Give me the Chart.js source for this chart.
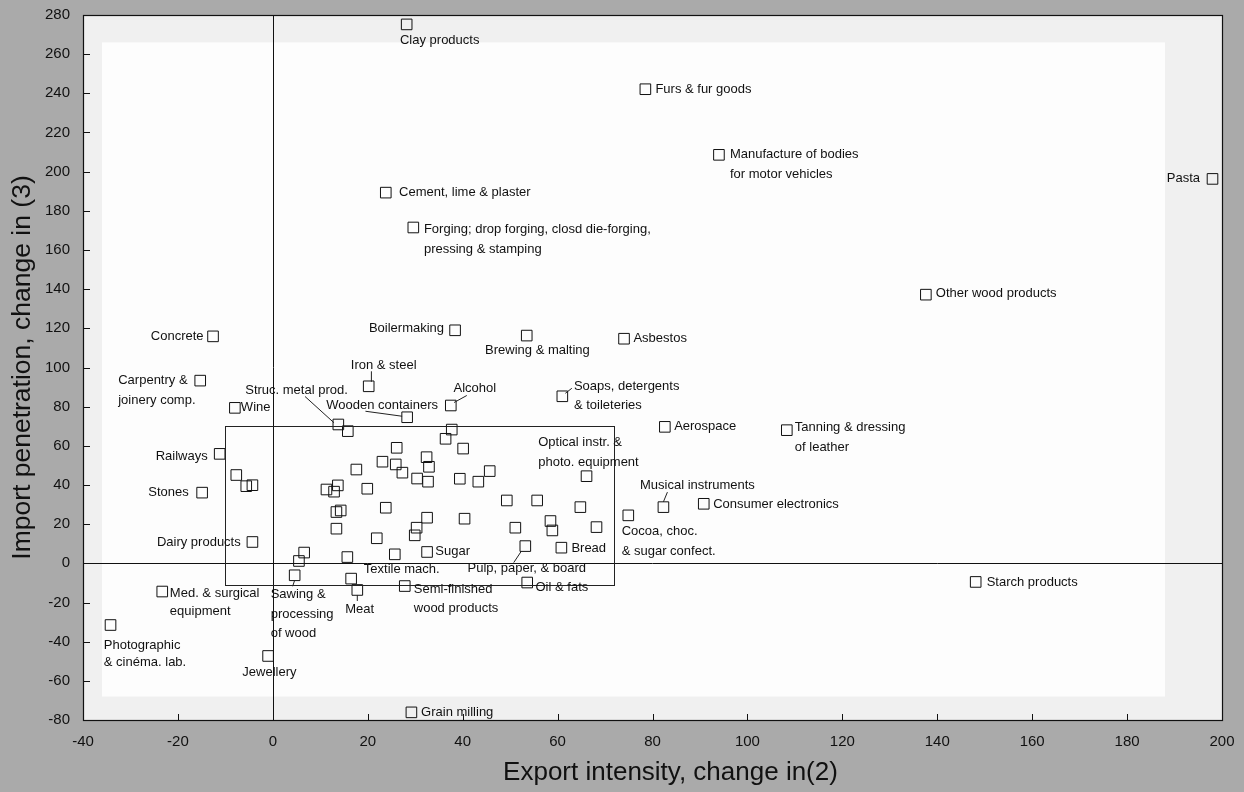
<!DOCTYPE html>
<html>
<head>
<meta charset="utf-8">
<title>Export intensity vs import penetration</title>
<script src="https://cdn.jsdelivr.net/npm/chart.js@4.4.1/dist/chart.umd.min.js"></script>
<style>
  html, body { margin: 0; padding: 0; background: #aaaaaa; }
  #wrap { width: 1244px; height: 792px; position: relative; }
</style>
</head>
<body>
<div id="wrap"><canvas id="scatter"></canvas></div>
<script>
// sector names ('' = unlabelled point), line breaks as in the original
const sectors = [
  'Clay products', 'Furs & fur goods', 'Manufacture of bodies\nfor motor vehicles', 'Pasta',
  'Cement, lime & plaster', 'Forging; drop forging, closd die-forging,\npressing & stamping',
  'Other wood products', 'Concrete', 'Boilermaking', 'Brewing & malting', 'Asbestos',
  'Carpentry &\njoinery comp.', 'Iron & steel', 'Wine', 'Alcohol', 'Soaps, detergents\n& toileteries',
  'Wooden containers', 'Struc. metal prod.', 'Aerospace', 'Tanning & dressing\nof leather',
  'Railways', 'Optical instr. &\nphoto. equipment', 'Stones', 'Musical instruments',
  'Consumer electronics', 'Cocoa, choc.\n& sugar confect.', 'Dairy products', 'Bread',
  'Pulp, paper, & board', 'Sugar', 'Textile mach.', 'Sawing &\nprocessing\nof wood', 'Meat',
  'Semi-finished\nwood products', 'Oil & fats', 'Starch products', 'Med. & surgical\nequipment',
  'Photographic\n& cinéma. lab.', 'Jewellery', 'Grain milling',
  '', '', '', '', '', '', '', '', '', '', '', '', '', '', '', '', '', '', '', '', '',
  '', '', '', '', '', '', '', '', '', '', '', '', '', '', '', '', '', '', '', '', ''
];
// export intensity, change in (2)
const exportChange = [
  28.2, 78.5, 94.0, 198.0, 23.8, 29.6, 137.6, -12.6, 38.4, 53.5, 74.0,
  -15.3, 20.2, -8.0, 37.5, 61.0, 28.3, 13.8, 82.6, 108.3,
  -11.2, 66.1, -14.9, 82.3, 90.8, 74.9, -4.3, 60.8,
  53.2, 32.5, 25.7, 4.6, 17.8, 27.8, 53.6, 148.1, -23.3,
  -34.2, -1.0, 29.2,
  15.8, 37.7, 36.4, 26.1, 40.1, 32.4, 23.1, 25.9, 32.9, 27.3, 17.6, 45.7, -7.7, 30.4, 32.7, 39.4, 43.3, -4.3, -5.6, 13.7, 11.3,
  12.9, 19.9, 49.3, 55.7, 64.8, 23.8, 14.3, 13.4, 32.5, 40.4, 58.5, 68.2, 51.1, 58.9, 30.3, 13.4, 29.9, 21.9, 15.7, 6.6, 5.5, 16.5
];
// import penetration, change in (3)
const importChange = [
  275.2, 242.1, 208.6, 196.3, 189.3, 171.5, 137.2, 115.9, 119.0, 116.3, 114.7,
  93.3, 90.4, 79.4, 80.6, 85.3, 74.6, 70.9, 69.7, 68.0,
  55.9, 44.5, 36.1, 28.7, 30.4, 24.5, 10.9, 8.0,
  8.8, 5.8, 4.6, -6.1, -13.6, -11.6, -9.8, -9.5, -14.4,
  -31.5, -47.3, -76.1,
  67.5, 68.3, 63.6, 59.0, 58.6, 54.2, 51.9, 50.5, 49.3, 46.3, 47.9, 47.1, 45.1, 43.3, 41.7, 43.2, 41.7, 39.9, 39.4, 39.8, 37.7,
  36.6, 38.1, 32.1, 32.1, 28.7, 28.4, 27.0, 26.2, 23.3, 22.8, 21.6, 18.5, 18.2, 16.8, 18.2, 17.7, 14.3, 12.8, 3.2, 5.5, 1.2, -7.8
];
const xTicks = [-40, -20, 0, 20, 40, 60, 80, 100, 120, 140, 160, 180, 200];
const yTicks = [-80, -60, -40, -20, 0, 20, 40, 60, 80, 100, 120, 140, 160, 180, 200, 220, 240, 260, 280];
// the framed cluster
const boxX = [-10, 72];
const boxY = [-11, 70];

// where each label sits relative to its marker (pixels), and optional leader lines
const labelLayout = {
  'Clay products': { dx: -6.7, dy: 16.5, align: 'left' },
  'Furs & fur goods': { dx: 10, dy: 0, align: 'left' },
  'Manufacture of bodies\nfor motor vehicles': { dx: 11, dy: 0, align: 'left', lh: 20 },
  'Pasta': { dx: -12.5, dy: -0.5, align: 'right' },
  'Cement, lime & plaster': { dx: 13.3, dy: 0, align: 'left' },
  'Forging; drop forging, closd die-forging,\npressing & stamping': { dx: 10.6, dy: 2.3, align: 'left', lh: 20 },
  'Other wood products': { dx: 10, dy: -1, align: 'left' },
  'Concrete': { dx: -9.5, dy: 0.5, align: 'right' },
  'Boilermaking': { dx: -11, dy: -2, align: 'right' },
  'Brewing & malting': { dx: 10.7, dy: 14.7, align: 'center' },
  'Asbestos': { dx: 9.4, dy: 0, align: 'left' },
  'Carpentry &\njoinery comp.': { dx: -82, dy: 0, align: 'left', lh: 20 },
  'Iron & steel': { dx: 15, dy: -21, align: 'center', leader: [2.7, -4.5, 2.7, -15] },
  'Wine': { dx: 6, dy: 0, align: 'left' },
  'Alcohol': { dx: 2.7, dy: -17, align: 'left', leader: [3.3, -3, 16, -10] },
  'Soaps, detergents\n& toileteries': { dx: 11.6, dy: -10, align: 'left', lh: 19.3, leader: [3, -3, 9.5, -8] },
  'Wooden containers': { dx: -25, dy: -11.7, align: 'center', leader: [-41.7, -6, -5, -1] },
  'Struc. metal prod.': { dx: -41.8, dy: -34, align: 'center', leader: [-33.3, -28, -4.3, -1.7] },
  'Aerospace': { dx: 9.3, dy: 0, align: 'left' },
  'Tanning & dressing\nof leather': { dx: 8, dy: -2.4, align: 'left', lh: 20 },
  'Railways': { dx: -12, dy: 2.4, align: 'right' },
  'Optical instr. &\nphoto. equipment': { dx: -48.3, dy: -34, align: 'left', lh: 20 },
  'Stones': { dx: -13.4, dy: 0, align: 'right' },
  'Musical instruments': { dx: 34, dy: -21.7, align: 'center', leader: [4, -15, 0, -5.3] },
  'Consumer electronics': { dx: 9.4, dy: 0.7, align: 'left' },
  'Cocoa, choc.\n& sugar confect.': { dx: -6.6, dy: 15.7, align: 'left', lh: 20 },
  'Dairy products': { dx: -11.7, dy: 0, align: 'right' },
  'Bread': { dx: 10, dy: 0.7, align: 'left' },
  'Pulp, paper, & board': { dx: 1.5, dy: 22.6, align: 'center', leader: [-4.3, 5.6, -11.6, 16.5] },
  'Sugar': { dx: 8.3, dy: -0.7, align: 'left' },
  'Textile mach.': { dx: -31, dy: 15, align: 'left' },
  'Sawing &\nprocessing\nof wood': { dx: -24, dy: 19, align: 'left', lh: 19.7, leader: [0, 5, -2, 11] },
  'Meat': { dx: 2.3, dy: 19.3, align: 'center', leader: [0, 5, 0, 11] },
  'Semi-finished\nwood products': { dx: 9, dy: 3.3, align: 'left', lh: 19.3 },
  'Oil & fats': { dx: 8.3, dy: 5, align: 'left' },
  'Starch products': { dx: 11, dy: 0.6, align: 'left' },
  'Med. & surgical\nequipment': { dx: 7.6, dy: 2, align: 'left', lh: 17.5 },
  'Photographic\n& cinéma. lab.': { dx: -6.7, dy: 20.3, align: 'left', lh: 17.5 },
  'Jewellery': { dx: 1.3, dy: 16.6, align: 'center' },
  'Grain milling': { dx: 9.7, dy: 0, align: 'left' }
};

const FONT = '"Liberation Sans", Arial, Helvetica, sans-serif';

// light plot background, frame, inward ticks, cluster box and the x-axis title
const framePlugin = {
  id: 'frame',
  beforeDatasetsDraw(chart) {
    const { ctx, chartArea: a, scales: { x, y } } = chart;
    ctx.save();
    ctx.fillStyle = '#f0f0f0';
    ctx.fillRect(a.left, a.top, a.right - a.left, a.bottom - a.top);
    ctx.fillStyle = '#fdfdfd';
    const l = x.getPixelForValue(-36), r = x.getPixelForValue(188);
    const t = y.getPixelForValue(266), b = y.getPixelForValue(-68);
    ctx.fillRect(l, t, r - l, b - t);
    ctx.restore();
  },
  afterDatasetsDraw(chart) {
    const { ctx, chartArea: a, scales: { x, y } } = chart;
    ctx.save();
    // zero lines
    ctx.strokeStyle = '#111';
    ctx.lineWidth = 1;
    ctx.beginPath();
    const x0 = Math.round(x.getPixelForValue(0)) + 0.5;
    const y0 = Math.round(y.getPixelForValue(0)) + 0.5;
    ctx.moveTo(x0, a.top); ctx.lineTo(x0, a.bottom);
    ctx.moveTo(a.left, y0); ctx.lineTo(a.right, y0);
    ctx.stroke();
    // cluster box
    ctx.strokeStyle = '#222';
    const bl = x.getPixelForValue(boxX[0]), br = x.getPixelForValue(boxX[1]);
    const bt = y.getPixelForValue(boxY[1]), bb = y.getPixelForValue(boxY[0]);
    ctx.strokeRect(Math.round(bl) + 0.5, Math.round(bt) + 0.5, Math.round(br - bl), Math.round(bb - bt));
    // inward ticks
    ctx.strokeStyle = '#111';
    ctx.beginPath();
    x.ticks.forEach(t => {
      const px = Math.round(x.getPixelForValue(t.value)) + 0.5;
      ctx.moveTo(px, a.bottom); ctx.lineTo(px, a.bottom - 6);
    });
    y.ticks.forEach(t => {
      const py = Math.round(y.getPixelForValue(t.value)) + 0.5;
      ctx.moveTo(a.left, py); ctx.lineTo(a.left + 7, py);
    });
    ctx.stroke();
    // frame
    ctx.lineWidth = 1.2;
    ctx.strokeRect(Math.round(a.left) + 0.5, Math.round(a.top) + 0.5,
      Math.round(a.right - a.left), Math.round(a.bottom - a.top));
    // x-axis title, sits a little right of centre in the original
    ctx.font = '26px ' + FONT;
    ctx.fillStyle = '#111';
    ctx.textAlign = 'center';
    ctx.textBaseline = 'middle';
    ctx.fillText('Export intensity, change in(2)', (a.left + a.right) / 2 + 18, 773);
    ctx.restore();
  }
};

// sector names beside their markers
const labelPlugin = {
  id: 'sectorLabels',
  afterDatasetsDraw(chart) {
    const { ctx } = chart;
    const meta = chart.getDatasetMeta(0);
    ctx.save();
    ctx.font = '13px ' + FONT;
    ctx.fillStyle = '#111';
    ctx.strokeStyle = '#222';
    ctx.lineWidth = 1;
    ctx.textBaseline = 'middle';
    sectors.forEach((name, i) => {
      if (!name) return;
      const lay = labelLayout[name];
      const pt = meta.data[i];
      if (!lay || !pt) return;
      const lines = name.split('\n');
      const lh = lay.lh || 19.5;
      ctx.textAlign = lay.align;
      lines.forEach((line, k) => {
        ctx.fillText(line, pt.x + lay.dx, pt.y + lay.dy + k * lh);
      });
      if (lay.leader) {
        const [x1, y1, x2, y2] = lay.leader;
        ctx.beginPath();
        ctx.moveTo(pt.x + x1, pt.y + y1);
        ctx.lineTo(pt.x + x2, pt.y + y2);
        ctx.stroke();
      }
    });
    ctx.restore();
  }
};

const points = exportChange.map((v, i) => ({ x: v, y: importChange[i] }));

new Chart(document.getElementById('scatter'), {
  type: 'scatter',
  data: {
    datasets: [{
      label: 'Sectors',
      data: points,
      pointStyle: 'rect',
      pointRadius: 7.5,
      pointHoverRadius: 7.5,
      borderColor: '#111',
      borderWidth: 1,
      backgroundColor: 'rgba(0,0,0,0)'
    }]
  },
  options: {
    responsive: true,
    maintainAspectRatio: false,
    animation: false,
    events: [],
    layout: { padding: { top: 15, right: 22, left: 0, bottom: 0 } },
    plugins: { legend: { display: false }, tooltip: { enabled: false } },
    scales: {
      x: {
        type: 'linear',
        min: xTicks[0],
        max: xTicks[xTicks.length - 1],
        afterBuildTicks: s => { s.ticks = xTicks.map(v => ({ value: v })); },
        afterFit: s => { s.height = 72; s.paddingLeft = 0; s.paddingRight = 0; },
        ticks: { font: { family: FONT, size: 15 }, color: '#111', padding: 13, maxRotation: 0 },
        grid: { display: false, drawTicks: false },
        border: { display: false },
        title: { display: false }
      },
      y: {
        type: 'linear',
        min: yTicks[0],
        max: yTicks[yTicks.length - 1],
        afterBuildTicks: s => { s.ticks = yTicks.map(v => ({ value: v })); },
        afterFit: s => { s.width = 83; s.paddingTop = 0; s.paddingBottom = 0; },
        ticks: { font: { family: FONT, size: 15 }, color: '#111', padding: 13 },
        grid: { display: false, drawTicks: false },
        border: { display: false },
        title: {
          display: true,
          text: 'Import penetration, change in (3)',
          font: { family: FONT, size: 26.5 },
          color: '#111',
          padding: { top: 7, bottom: 0 }
        }
      }
    }
  },
  plugins: [framePlugin, labelPlugin]
});
</script>
</body>
</html>
